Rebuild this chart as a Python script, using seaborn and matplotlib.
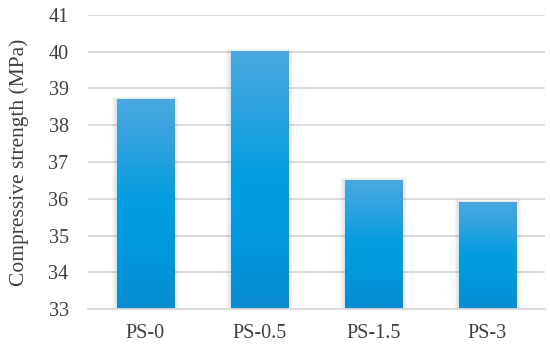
import numpy as np
import pandas as pd
import seaborn as sns
import matplotlib.pyplot as plt
from matplotlib.colors import LinearSegmentedColormap

# === Data ===
samples = ["PS-0", "PS-0.5", "PS-1.5", "PS-3"]
strength = [38.7, 40.0, 36.5, 35.9]
y_ticks = [33, 34, 35, 36, 37, 38, 39, 40, 41]

df = pd.DataFrame({"sample": samples, "strength": strength})

sns.set_style("white")
plt.rcParams["font.family"] = ["Liberation Serif", "DejaVu Serif"]

fig, ax = plt.subplots(figsize=(5.5, 3.48), dpi=100)
fig.subplots_adjust(left=0.16, right=0.99, top=0.957, bottom=0.112)

sns.barplot(data=df, x="sample", y="strength", color="#0a9ade", width=0.5,
            ax=ax, zorder=3)
ax.set_xlim(-0.5, 3.5)
ax.set_ylim(33, 41)
ax.set_yticks(y_ticks)

# pixel size in data units
px_x = 4 / 457
px_y = 8 / 294

# gradient fill + soft shadow for each bar
grad = LinearSegmentedColormap.from_list(
    "bar", ["#0a8cd0", "#0097dc", "#009ee0", "#2aa2df", "#4aa8e0"])
img = np.linspace(0, 1, 256).reshape(-1, 1)
for p in ax.patches:
    x0, w, top = p.get_x(), p.get_width(), p.get_height()
    for k in range(1, 6):
        sh = plt.Rectangle((x0 - k * px_x, 33), w + 2 * k * px_x,
                           top - 33 + k * px_y * 0.6,
                           color="black", alpha=0.025, lw=0, zorder=2)
        ax.add_patch(sh)
    p.set_visible(False)
    ax.imshow(img, cmap=grad, aspect="auto", origin="lower",
              extent=(x0, x0 + w, 33, top), zorder=4)
ax.set_xlim(-0.5, 3.5)
ax.set_ylim(33, 41)

ax.yaxis.grid(True, color="#d9d9d9", lw=1.3, zorder=0)
for s in ["top", "right", "left"]:
    ax.spines[s].set_visible(False)
ax.spines["bottom"].set_color("#d9d9d9")
ax.spines["bottom"].set_linewidth(1.3)
ax.spines["bottom"].set_zorder(5)
ax.tick_params(axis="both", length=0, labelsize=14.5, colors="#404040")
ax.tick_params(axis="y", pad=14)
ax.tick_params(axis="x", pad=11)
ax.set_xlabel("")
ax.set_ylabel("Compressive strength (MPa)", fontsize=15.5, color="#404040",
              labelpad=14)

plt.savefig("out.png", dpi=100)
